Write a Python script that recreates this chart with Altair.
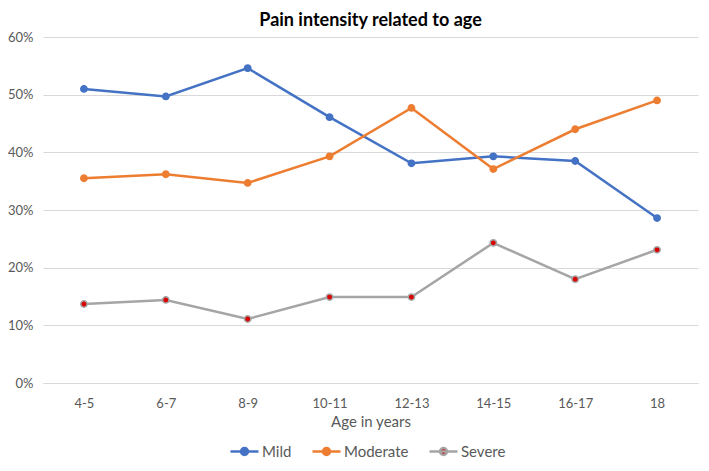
import altair as alt
import pandas as pd

ages = ["4-5", "6-7", "8-9", "10-11", "12-13", "14-15", "16-17", "18"]
mild = [0.510, 0.497, 0.546, 0.461, 0.381, 0.393, 0.385, 0.286]
moderate = [0.355, 0.362, 0.347, 0.393, 0.477, 0.371, 0.440, 0.490]
severe = [0.137, 0.144, 0.111, 0.149, 0.149, 0.243, 0.180, 0.231]

series = ["Mild", "Moderate", "Severe"]
line_colors = ["#4472C4", "#ED7D31", "#A5A5A5"]
fill_colors = ["#4472C4", "#ED7D31", "#D90000"]

rows = []
for name, vals in zip(series, [mild, moderate, severe]):
    for a, v in zip(ages, vals):
        rows.append({"age": a, "value": v, "series": name})
df = pd.DataFrame(rows)

FONT = "Lato"
TXT = "#595959"

x = alt.X("age:N", sort=ages, title="Age in years",
          scale=alt.Scale(type="point", padding=0.5),
          axis=alt.Axis(labelAngle=0, ticks=False, domain=True, domainColor="#D9D9D9",
                        labelColor=TXT, labelFontSize=13, labelPadding=14,
                        titleColor=TXT, titleFontSize=15, titleFontWeight="normal",
                        titlePadding=4, labelFont=FONT, titleFont=FONT, grid=False))
y = alt.Y("value:Q", title=None,
          scale=alt.Scale(domain=[0, 0.6]),
          axis=alt.Axis(format=".0%", values=[0, 0.1, 0.2, 0.3, 0.4, 0.5, 0.6],
                        ticks=False, domain=False, gridColor="#D9D9D9",
                        labelColor=TXT, labelFontSize=13, labelPadding=10, labelFont=FONT))

legend = alt.Legend(orient="none", legendX=186, legendY=399, direction="horizontal", title=None,
                    labelFont=FONT, labelFontSize=15, labelColor=TXT, labelOffset=2,
                    symbolType="M-1,0H1M-0.25,0A0.25,0.25 0 1,0 0.25,0A0.25,0.25 0 1,0 -0.25,0",
                    symbolSize=784, symbolStrokeWidth=2.5, symbolOpacity=1,
                    columnPadding=15)

stroke = alt.Stroke("series:N", scale=alt.Scale(domain=series, range=line_colors), legend=legend)
fill = alt.Fill("series:N", scale=alt.Scale(domain=series, range=fill_colors), legend=legend)

base = alt.Chart(df)
lines = base.mark_line(strokeWidth=2.5).encode(x=x, y=y, stroke=stroke)
points = base.mark_point(filled=True, size=40, strokeWidth=1.5, opacity=1).encode(
    x=x, y=y, fill=fill, stroke=stroke,
)

chart = alt.layer(lines, points).properties(
    width=655, height=346,
    title=alt.TitleParams("Pain intensity related to age", font=FONT, fontSize=18,
                          fontWeight="bold", color="#000000", offset=1, anchor="middle"),
    padding={"left": 35, "top": 29, "right": 3, "bottom": 80},
    autosize=alt.AutoSizeParams(type="none"),
).configure_view(strokeWidth=0)

chart.save("out.html", embed_options={"renderer": "svg", "actions": False})
